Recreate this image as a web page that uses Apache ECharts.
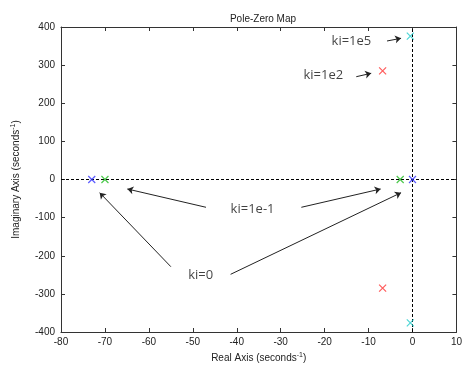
<!DOCTYPE html>
<html>
<head>
<meta charset="utf-8">
<script src="https://cdn.jsdelivr.net/npm/echarts@6/dist/echarts.min.js"></script>
<style>
  html, body { margin: 0; padding: 0; background: #fff; }
  #chart { width: 465px; height: 369px; }
</style>
</head>
<body>
<div id="chart"></div>
<script>
// pole locations, one array pair per gain
const poles_ki0 = [[-73, 0], [0, 0]];
const poles_ki1em1 = [[-70, 0], [-2.8, 0]];
const poles_ki1e2 = [[-6.8, 285], [-6.8, -285]];
const poles_ki1e5 = [[-0.5, 376], [-0.5, -376]];

// annotation labels (data coords) and arrows [from, to]
const noteLabels = [
  { text: "ki=1e5", at: [-13.9, 361.5] },
  { text: "ki=1e2", at: [-20.3, 274] },
  { text: "ki=1e-1", at: [-36.4, -77] },
  { text: "ki=0", at: [-48.2, -250.5] }
];
const noteArrows = [
  [[-5.8, 363.3], [-2.6, 370.4]],
  [[-12.8, 269.6], [-9.4, 278.6]],
  [[-47.0, -72.9], [-64.9, -24.9]],
  [[-25.3, -72.9], [-7.25, -24.9]],
  [[-55.0, -228.7], [-71.2, -34.6]],
  [[-41.4, -248.7], [-2.6, -34.6]]
];

const FONT = "Liberation Sans";
const crossPath = "path://M0,0L10,10M10,0L0,10";

function poleSeries(name, data, color) {
  return {
    name: name,
    type: "scatter",
    data: data,
    symbol: crossPath,
    symbolSize: 7,
    itemStyle: { color: "transparent", borderColor: color, borderWidth: 1.2 },
    silent: true,
    z: 10
  };
}

const chart = echarts.init(document.getElementById("chart"));

const axisCommon = {
  type: "value",
  axisLine: { show: true, onZero: false, lineStyle: { color: "#333", width: 1 } },
  axisTick: { show: true, inside: true, length: 4, lineStyle: { color: "#333" } },
  splitLine: { show: false }
};

chart.setOption({
  animation: false,
  backgroundColor: "#fff",
  title: {
    text: "Pole-Zero Map",
    left: 258,
    top: 9,
    textAlign: "center",
    textStyle: { fontFamily: FONT, fontSize: 10, fontWeight: "normal", color: "#222" }
  },
  grid: { left: 61, right: 6, top: 27, bottom: 37, show: false },
  xAxis: [
    Object.assign({}, axisCommon, {
      min: -80, max: 10, interval: 10,
      position: "bottom",
      name: "Real Axis (seconds{s|-1})",
      nameLocation: "middle",
      nameGap: 20,
      nameTextStyle: {
        fontFamily: FONT, fontSize: 10, color: "#222",
        rich: { s: { fontFamily: FONT, fontSize: 7, color: "#222", verticalAlign: "top", padding: [0, 0, 6, 0] } }
      },
      axisLabel: { fontFamily: FONT, fontSize: 10, color: "#222", margin: 5 }
    }),
    Object.assign({}, axisCommon, {
      min: -80, max: 10, interval: 10,
      position: "top",
      axisLabel: { show: false }
    })
  ],
  yAxis: [
    Object.assign({}, axisCommon, {
      min: -400, max: 400, interval: 100,
      position: "left",
      name: "Imaginary Axis (seconds{s|-1})",
      nameLocation: "middle",
      nameGap: 38,
      nameTextStyle: {
        fontFamily: FONT, fontSize: 10, color: "#222",
        rich: { s: { fontFamily: FONT, fontSize: 7, color: "#222", padding: [0, 0, 6, 0] } }
      },
      axisLabel: { fontFamily: FONT, fontSize: 10, color: "#222", margin: 6 }
    }),
    Object.assign({}, axisCommon, {
      min: -400, max: 400, interval: 100,
      position: "right",
      axisLabel: { show: false }
    })
  ],
  series: [
    {
      // dotted reference lines through the origin
      type: "scatter",
      data: [],
      silent: true,
      z: 2,
      markLine: {
        z: 3,
        silent: true,
        symbol: "none",
        label: { show: false },
        lineStyle: { color: "#000", width: 1, type: [3, 2] },
        emphasis: { disabled: true },
        data: [{ xAxis: 0 }, { yAxis: 0 }]
      }
    },
    {
      type: "scatter",
      symbolSize: 0,
      silent: true,
      data: noteLabels.map(n => ({ value: n.at, name: n.text })),
      label: {
        show: true,
        position: "inside",
        formatter: p => p.name,
        fontFamily: "Open Sans",
        fontSize: 13,
        color: "#111"
      },
      markLine: {
        silent: true,
        symbol: ["none", "arrow"],
        symbolSize: 6,
        label: { show: false },
        lineStyle: { color: "#222", width: 1, type: "solid" },
        emphasis: { disabled: true },
        data: noteArrows.map(a => [{ coord: a[0] }, { coord: a[1] }])
      }
    },
    poleSeries("ki=0", poles_ki0, "#3333ff"),
    poleSeries("ki=1e-1", poles_ki1em1, "#22bb22"),
    poleSeries("ki=1e2", poles_ki1e2, "#ff3333"),
    poleSeries("ki=1e5", poles_ki1e5, "#22cccc")
  ]
});
</script>
</body>
</html>
